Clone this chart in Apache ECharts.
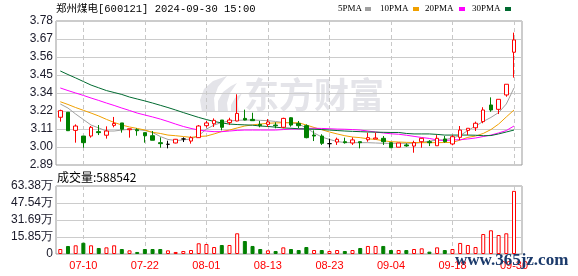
<!DOCTYPE html>
<html><head><meta charset="utf-8">
<script src="https://cdn.jsdelivr.net/npm/echarts@6/dist/echarts.min.js"></script>
<style>html,body{margin:0;padding:0;background:#fff}#c{width:578px;height:276px}</style>
</head><body><div id="c"></div>
<script>
const dates = ['07-05','07-08','07-09','07-10','07-11','07-12','07-15','07-16','07-17','07-18','07-19','07-22','07-23','07-24','07-25','07-26','07-29','07-30','07-31',
'08-01','08-02','08-05','08-06','08-07','08-08','08-09','08-12','08-13','08-14','08-15','08-16','08-19','08-20','08-21','08-22','08-23','08-26','08-27','08-28','08-29','08-30',
'09-02','09-03','09-04','09-05','09-06','09-09','09-10','09-11','09-12','09-13','09-18','09-19','09-20','09-23','09-24','09-25','09-26','09-27','09-30'];
const opens  = [3.185,3.216,3.104,3.069,3.069,3.096,3.074,3.135,3.150,3.108,3.108,3.090,3.071,3.028,3.018,3.026,3.051,3.038,3.059,3.133,3.145,3.168,3.152,3.162,3.178,3.172,3.141,3.141,3.137,3.123,3.182,3.147,3.133,3.075,3.069,3.022,3.032,3.034,3.026,3.034,3.046,3.051,3.055,3.028,3.000,3.014,3.007,3.034,3.034,3.009,3.051,3.020,3.061,3.104,3.120,3.158,3.261,3.234,3.323,3.587];
const closes = [3.226,3.102,3.131,3.028,3.123,3.090,3.100,3.147,3.111,3.114,3.102,3.071,3.043,3.022,3.018,3.049,3.051,3.059,3.131,3.150,3.166,3.123,3.168,3.209,3.168,3.164,3.133,3.156,3.133,3.178,3.137,3.133,3.059,3.069,3.024,3.022,3.049,3.028,3.045,3.028,3.059,3.057,3.034,2.997,3.026,3.008,3.028,3.055,3.028,3.055,3.034,3.065,3.106,3.117,3.148,3.230,3.230,3.296,3.389,3.663];
const lows   = [3.158,3.100,3.028,2.997,3.059,3.075,3.053,3.123,3.090,3.059,3.071,3.028,3.043,2.997,2.993,3.024,3.032,3.022,3.057,3.121,3.125,3.104,3.137,3.160,3.166,3.162,3.123,3.125,3.117,3.117,3.127,3.117,3.055,3.038,3.014,2.997,3.014,3.022,3.014,2.993,3.034,3.051,3.014,2.997,3.000,3.003,2.966,2.997,3.007,3.009,3.028,3.012,3.044,3.075,3.100,3.148,3.219,3.205,3.312,3.430];
const highs  = [3.232,3.216,3.141,3.069,3.131,3.137,3.129,3.187,3.150,3.114,3.117,3.090,3.100,3.061,3.040,3.051,3.061,3.067,3.137,3.162,3.178,3.168,3.182,3.327,3.232,3.213,3.162,3.174,3.154,3.182,3.185,3.162,3.141,3.104,3.080,3.053,3.059,3.059,3.061,3.034,3.090,3.090,3.069,3.028,3.026,3.024,3.040,3.057,3.044,3.075,3.069,3.075,3.131,3.117,3.158,3.247,3.308,3.296,3.389,3.708];
const ma5  = [3.267,3.242,3.205,3.171,3.137,3.119,3.100,3.100,3.106,3.111,3.109,3.103,3.091,3.066,3.048,3.041,3.045,3.051,3.072,3.112,3.137,3.153,3.162,3.166,3.168,3.168,3.166,3.164,3.159,3.153,3.151,3.143,3.119,3.088,3.063,3.048,3.035,3.029,3.028,3.028,3.028,3.026,3.024,3.024,3.024,3.024,3.024,3.030,3.038,3.043,3.046,3.057,3.072,3.103,3.131,3.159,3.184,3.214,3.267,3.366];
const ma10 = [3.281,3.264,3.245,3.228,3.211,3.193,3.172,3.153,3.137,3.125,3.116,3.106,3.092,3.085,3.075,3.071,3.066,3.061,3.066,3.069,3.082,3.097,3.106,3.119,3.131,3.138,3.143,3.148,3.150,3.151,3.151,3.151,3.137,3.122,3.108,3.094,3.082,3.071,3.063,3.059,3.052,3.048,3.040,3.034,3.032,3.030,3.029,3.028,3.028,3.028,3.029,3.030,3.044,3.061,3.069,3.085,3.109,3.143,3.187,3.230];
const ma20 = [3.366,3.350,3.335,3.320,3.304,3.289,3.273,3.258,3.242,3.227,3.211,3.199,3.187,3.174,3.159,3.143,3.128,3.116,3.106,3.100,3.096,3.096,3.100,3.104,3.106,3.106,3.106,3.106,3.106,3.109,3.112,3.112,3.116,3.117,3.116,3.114,3.112,3.111,3.109,3.106,3.100,3.094,3.088,3.083,3.080,3.074,3.067,3.060,3.054,3.045,3.041,3.045,3.046,3.051,3.057,3.066,3.075,3.088,3.103,3.131];
const ma30 = [3.471,3.449,3.428,3.406,3.384,3.367,3.350,3.338,3.326,3.310,3.298,3.286,3.273,3.259,3.245,3.230,3.214,3.199,3.184,3.171,3.159,3.150,3.143,3.140,3.138,3.136,3.131,3.128,3.124,3.119,3.117,3.114,3.112,3.111,3.109,3.106,3.103,3.100,3.098,3.096,3.094,3.093,3.092,3.091,3.091,3.085,3.082,3.082,3.082,3.079,3.075,3.075,3.075,3.075,3.074,3.071,3.072,3.082,3.094,3.106];
const volumes = [46600,74600,81000,105000,81000,56000,62000,81000,46600,34000,
 19000,46600,46600,46600,34000,19000,28000,37000,100000,93000,
 65000,84000,84000,193000,121000,75000,46600,34000,28000,62000,
 46600,37000,65000,37000,37000,28000,37000,28000,37000,56000,
 75000,75000,75000,37000,37000,37000,46600,53000,22000,62000,
 37000,46600,103000,84000,65000,186000,221000,177000,193000,588542];
const volUp = [1,0,1,0,1,0,1,1,0,1, 0,0,0,0,1,1,1,1,1,1, 1,0,1,1,0,0,0,1,0,1,
 0,0,0,1,0,1,1,0,1,0, 1,1,0,0,1,0,1,1,0,1, 0,1,1,1,1,1,1,1,1,1];
const priceTicks = ['2.89','3.00','3.11','3.22','3.34','3.45','3.56','3.67','3.78'];
const volTicks = ['0','15.85万','31.69万','47.54万','63.38万'];
const maNames = ['5PMA','10PMA','20PMA','30PMA'];
const maColors = ['#a0a0a0','#f0a000','#ff00ff','#006a30'];

const P_MIN = 2.89, P_MAX = 3.78, P_STEP = 0.11125;
const V_MAX = 633800, V_STEP = 158450;
const RED = '#ff0000', GREEN = '#008000';
const WM = '#e4e4e9';
const showIdx = i => (i - 3) % 8 === 0;

// legend layout (text left x, marker x)
const legTextX = [338, 380, 425, 472];
const legMarkX = [365, 413, 459, 505];
const legendGraphics = [];
maNames.forEach((n, k) => {
  legendGraphics.push({type: 'text', x: legTextX[k], y: 9, style: {text: n, font: '9px "Liberation Serif"', fill: '#000', align: 'left', verticalAlign: 'middle'}});
  legendGraphics.push({type: 'rect', shape: {x: legMarkX[k], y: 7, width: 6, height: 4}, style: {fill: maColors[k]}});
});

const chart = echarts.init(document.getElementById('c'), null, {renderer: 'canvas'});
const dashed = {show: true, interval: (i) => showIdx(i), lineStyle: {color: '#c8c8c8', type: [4, 3], width: 1}};
const option = {
  animation: false,
  textStyle: {fontFamily: 'Liberation Sans'},
  grid: [
    {left: 56, top: 21, width: 466, height: 144, show: true, borderColor: '#999', borderWidth: 1},
    {left: 60.3, top: 21, width: 453.7, height: 144},
    {left: 56, top: 186, width: 466, height: 68, show: true, borderColor: '#999', borderWidth: 1},
    {left: 60.3, top: 186, width: 453.7, height: 68}
  ],
  xAxis: [
    {gridIndex: 0, type: 'value', min: 0, max: 1, show: false},
    {gridIndex: 1, type: 'category', data: dates, boundaryGap: false,
      axisLine: {show: false}, axisTick: {show: false}, axisLabel: {show: false}, splitLine: dashed},
    {gridIndex: 2, type: 'value', min: 0, max: 1, show: false},
    {gridIndex: 3, type: 'category', data: dates, boundaryGap: false,
      axisLine: {show: false}, axisTick: {show: false},
      axisLabel: {interval: (i) => showIdx(i), color: RED, fontSize: 11, margin: 6, fontFamily: 'Liberation Sans'},
      splitLine: dashed}
  ],
  yAxis: [
    {gridIndex: 0, type: 'value', min: P_MIN, max: P_MAX, interval: P_STEP,
      axisLine: {show: false}, axisTick: {show: false},
      splitLine: {lineStyle: {color: '#cccccc', width: 1}},
      axisLabel: {formatter: v => priceTicks[Math.round((v - P_MIN) / P_STEP)], color: '#1a1a2a', fontSize: 12, margin: 3}},
    {gridIndex: 1, type: 'value', min: P_MIN, max: P_MAX, show: false},
    {gridIndex: 2, type: 'value', min: 0, max: V_MAX, interval: V_STEP,
      axisLine: {show: false}, axisTick: {show: false},
      splitLine: {lineStyle: {color: '#cccccc', width: 1}},
      axisLabel: {formatter: v => volTicks[Math.round(v / V_STEP)], color: '#1a1a2a', fontSize: 12, margin: 3}},
    {gridIndex: 3, type: 'value', min: 0, max: V_MAX, show: false}
  ],
  graphic: [
    {type: 'polygon', z: -5, shape: {points: [[202,112],[200,100],[204,89],[213,81],[227,76],[218,87],[214,98],[215,112]]}, style: {fill: WM}},
    {type: 'polygon', z: -5, shape: {points: [[218,112],[218,101],[223,92],[231,86],[237,83],[230,93],[227,103],[228,112]]}, style: {fill: WM}},
    {type: 'polygon', z: -5, shape: {points: [[231,112],[231,105],[235,98],[242,93],[238,101],[238,106],[239,112]]}, style: {fill: WM}},
    {type: 'text', z: -5, x: 244, y: 95, style: {text: '东方财富', font: 'bold 35px "Noto Sans CJK SC"', fill: WM, align: 'left', verticalAlign: 'middle'}},
    {type: 'text', x: 56, y: 9, style: {text: '郑州煤电[600121] 2024-09-30 15:00', font: '10.5px "Liberation Mono", "Noto Sans CJK SC"', fill: '#000', align: 'left', verticalAlign: 'middle'}},
    {type: 'text', x: 57, y: 177.5, style: {text: '成交量:' + volumes[volumes.length - 1], font: '12px "Noto Sans CJK SC"', fill: '#000', align: 'left', verticalAlign: 'middle'}},
    {type: 'text', z: 100, x: 455, y: 261, style: {text: 'www.365jz.com', font: 'bold 17px "Liberation Serif"', fill: '#1b3a6b', align: 'left', verticalAlign: 'middle'}}
  ].concat(legendGraphics),
  series: [
    {name: maNames[0], type: 'line', xAxisIndex: 1, yAxisIndex: 1, data: ma5, symbol: 'none', lineStyle: {width: 1, color: maColors[0]}, z: 2},
    {name: maNames[1], type: 'line', xAxisIndex: 1, yAxisIndex: 1, data: ma10, symbol: 'none', lineStyle: {width: 1, color: maColors[1]}, z: 2},
    {name: maNames[2], type: 'line', xAxisIndex: 1, yAxisIndex: 1, data: ma20, symbol: 'none', lineStyle: {width: 1, color: maColors[2]}, z: 2},
    {name: maNames[3], type: 'line', xAxisIndex: 1, yAxisIndex: 1, data: ma30, symbol: 'none', lineStyle: {width: 1, color: maColors[3]}, z: 2},
    {type: 'candlestick', xAxisIndex: 1, yAxisIndex: 1, z: 3, clip: false, barWidth: 4,
      data: opens.map((o, i) => [o, closes[i], lows[i], highs[i]]),
      itemStyle: {color: '#ffffff', color0: GREEN, borderColor: RED, borderColor0: GREEN, borderColorDoji: '#000000', borderWidth: 1}},
    {type: 'bar', xAxisIndex: 3, yAxisIndex: 3, barWidth: 4, clip: false,
      data: volumes.map((v, i) => ({value: v, itemStyle: volUp[i] ? {color: '#ffffff', borderColor: RED, borderWidth: 1} : {color: GREEN, borderColor: GREEN, borderWidth: 1}}))}
  ]
};
chart.setOption(option);
</script></body></html>
